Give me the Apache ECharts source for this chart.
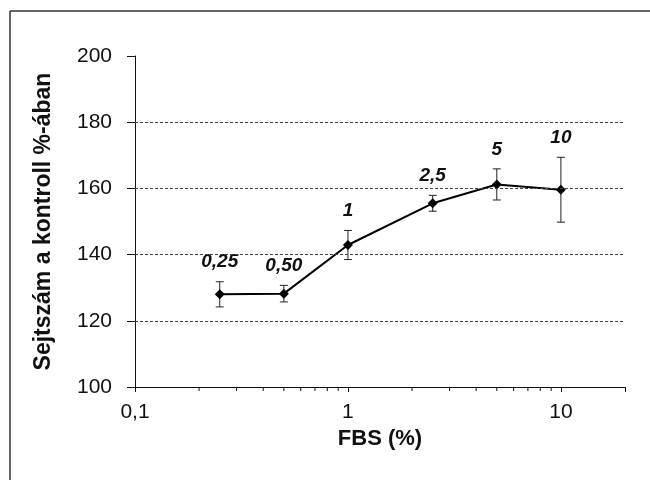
<!DOCTYPE html>
<html>
<head>
<meta charset="utf-8">
<script src="https://cdn.jsdelivr.net/npm/echarts@6/dist/echarts.min.js"></script>
<style>
  html, body { margin: 0; padding: 0; background: #fff; }
  #chart { width: 650px; height: 480px; }
</style>
</head>
<body>
<div id="chart"></div>
<script>
// FBS koncentráció (%) és sejtszám (kontroll %-ában)
const fbs = [0.25, 0.5, 1, 2.5, 5, 10];
const cellCount = [128.0, 128.2, 142.9, 155.5, 161.2, 159.6];
const errVal = [3.8, 2.5, 4.4, 2.4, 4.7, 9.8];
const pointLabels = ['0,25', '0,50', '1', '2,5', '5', '10'];

// tengely feliratok
const xTicks = [0.1, 1, 10];
const xTickLabels = ['0,1', '1', '10'];
const xMinorTicks = [0.2, 0.3, 0.4, 0.5, 0.6, 0.7, 0.8, 0.9, 2, 3, 4, 5, 6, 7, 8, 9];
const yGridLines = [120, 140, 160, 180];

const FONT = '"Liberation Sans", Arial, sans-serif';

const chart = echarts.init(document.getElementById('chart'));

const option = {
  backgroundColor: '#fff',
  animation: false,
  grid: { left: 135, right: 25, top: 56, bottom: 93 },
  // keret (csak felső és bal vonal látszik)
  graphic: [
    { type: 'line', shape: { x1: 10, y1: 11, x2: 650, y2: 11 }, style: { stroke: '#333', lineWidth: 1.5 } },
    { type: 'line', shape: { x1: 10, y1: 11, x2: 10, y2: 480 }, style: { stroke: '#333', lineWidth: 1.5 } }
  ],
  xAxis: {
    type: 'log',
    logBase: 10,
    min: 0.1,
    max: 20,
    name: 'FBS (%)',
    nameLocation: 'middle',
    nameGap: 39,
    nameTextStyle: { fontFamily: FONT, fontSize: 22, fontWeight: 'bold', color: '#111' },
    axisLine: { lineStyle: { color: '#111', width: 1 } },
    axisTick: { show: true, length: 5, lineStyle: { color: '#111' } },
    splitLine: { show: false },
    axisLabel: {
      margin: 15,
      fontFamily: FONT,
      fontSize: 21,
      color: '#111',
      formatter: function (v) {
        for (let i = 0; i < xTicks.length; i++) {
          if (Math.abs(Math.log10(v) - Math.log10(xTicks[i])) < 1e-6) return xTickLabels[i];
        }
        return '';
      }
    }
  },
  yAxis: {
    type: 'value',
    min: 100,
    max: 200,
    interval: 20,
    name: 'Sejtszám a kontroll %-ában',
    nameLocation: 'middle',
    nameGap: 80,
    nameTextStyle: { fontFamily: FONT, fontSize: 23, fontWeight: 'bold', color: '#111' },
    axisLine: { show: true, lineStyle: { color: '#111', width: 1 } },
    axisTick: { show: true, length: 8, lineStyle: { color: '#111' } },
    splitLine: { show: false },
    axisLabel: { margin: 23, fontFamily: FONT, fontSize: 21, color: '#111' }
  },
  series: [
    {
      // szaggatott rácsvonalak
      type: 'line',
      data: [],
      markLine: {
        silent: true,
        symbol: 'none',
        label: { show: false },
        lineStyle: { type: [3, 2], color: '#444', width: 1 },
        data: yGridLines.map(v => ({ yAxis: v }))
      }
    },
    {
      // kisebb osztások az x tengelyen
      type: 'custom',
      silent: true,
      clip: false,
      data: xMinorTicks.map(v => [v, 100]),
      renderItem: function (params, api) {
        const p = api.coord([api.value(0), api.value(1)]);
        return {
          type: 'line',
          shape: { x1: p[0], y1: p[1], x2: p[0], y2: p[1] + 4 },
          style: { stroke: '#111', lineWidth: 1 }
        };
      }
    },
    {
      // hibasávok + feliratok
      type: 'custom',
      clip: false,
      data: fbs.map((x, i) => [x, cellCount[i] - errVal[i], cellCount[i] + errVal[i], i]),
      renderItem: function (params, api) {
        const x = api.value(0);
        const lo = api.coord([x, api.value(1)]);
        const hi = api.coord([x, api.value(2)]);
        const cap = 4;
        const idx = api.value(3);
        return {
          type: 'group',
          children: [
            { type: 'line', shape: { x1: lo[0], y1: lo[1], x2: hi[0], y2: hi[1] }, style: { stroke: '#222', lineWidth: 1 } },
            { type: 'line', shape: { x1: lo[0] - cap, y1: lo[1], x2: lo[0] + cap, y2: lo[1] }, style: { stroke: '#222', lineWidth: 1 } },
            { type: 'line', shape: { x1: hi[0] - cap, y1: hi[1], x2: hi[0] + cap, y2: hi[1] }, style: { stroke: '#222', lineWidth: 1 } },
            {
              type: 'text',
              x: hi[0],
              y: hi[1] - 10,
              style: {
                text: pointLabels[idx],
                fontFamily: FONT,
                fontSize: 19,
                fontWeight: 'bold',
                fontStyle: 'italic',
                fill: '#111',
                align: 'center',
                verticalAlign: 'bottom'
              }
            }
          ]
        };
      },
      z: 3
    },
    {
      type: 'line',
      data: fbs.map((x, i) => [x, cellCount[i]]),
      symbol: 'diamond',
      symbolSize: 10,
      itemStyle: { color: '#000' },
      lineStyle: { color: '#000', width: 2 },
      z: 4
    }
  ]
};

chart.setOption(option);
</script>
</body>
</html>
